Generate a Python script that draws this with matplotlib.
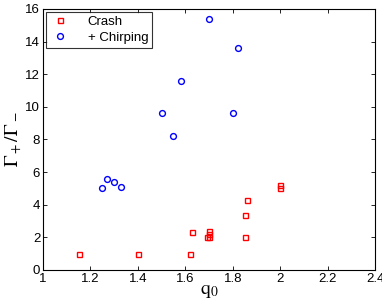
import matplotlib
matplotlib.use("Agg")
import matplotlib.pyplot as plt

crash_q = [1.15, 1.40, 1.62, 1.63, 1.69, 1.70, 1.70, 1.70, 1.85, 1.86, 1.85, 2.00, 2.00]
crash_g = [1.0, 1.0, 1.0, 2.3, 2.0, 2.0, 2.2, 2.4, 3.4, 4.3, 2.0, 5.2, 5.0]
chirp_q = [1.25, 1.27, 1.30, 1.33, 1.50, 1.55, 1.58, 1.70, 1.82, 1.80]
chirp_g = [5.0, 5.6, 5.4, 5.1, 9.6, 8.2, 11.6, 15.4, 13.6, 9.6]

xticks = [1, 1.2, 1.4, 1.6, 1.8, 2, 2.2, 2.4]
xticklabels = ["1", "1.2", "1.4", "1.6", "1.8", "2", "2.2", "2.4"]
yticks = [0, 2, 4, 6, 8, 10, 12, 14, 16]

plt.rcParams['font.family'] = ['Liberation Sans', 'DejaVu Sans']
plt.rcParams['mathtext.fontset'] = 'stix'
fig = plt.figure(figsize=(3.82, 3.08), dpi=100)
ax = fig.add_axes([0.1126, 0.1234, 0.8694, 0.8474])

ax.plot(crash_q, crash_g, linestyle='none', marker='s', markersize=3.6,
        markerfacecolor='none', markeredgecolor='red', markeredgewidth=1.0, label='Crash')
ax.plot(chirp_q, chirp_g, linestyle='none', marker='o', markersize=4.2,
        markerfacecolor='none', markeredgecolor='blue', markeredgewidth=1.0, label='+ Chirping')

ax.set_xlim(1, 2.4)
ax.set_ylim(0, 16)
ax.set_xticks(xticks)
ax.set_xticklabels(xticklabels)
ax.set_yticks(yticks)
ax.tick_params(direction='in', top=True, right=True, labelsize=9.5, length=3, width=0.6, pad=2)
for s in ax.spines.values():
    s.set_linewidth(0.8)

ax.set_xlabel(r'$\mathrm{q}_0$', fontsize=14, labelpad=-1)
ax.set_ylabel(r'$\Gamma_+/\Gamma_-$', fontsize=14, labelpad=0)

leg = ax.legend(loc='upper left', fontsize=9.5, frameon=True, fancybox=False,
                edgecolor='black', borderpad=0.3, handletextpad=1.4, labelspacing=0.3,
                borderaxespad=0.2, handlelength=1.5)
leg.get_frame().set_linewidth(0.8)

fig.savefig('out.png', dpi=100)
